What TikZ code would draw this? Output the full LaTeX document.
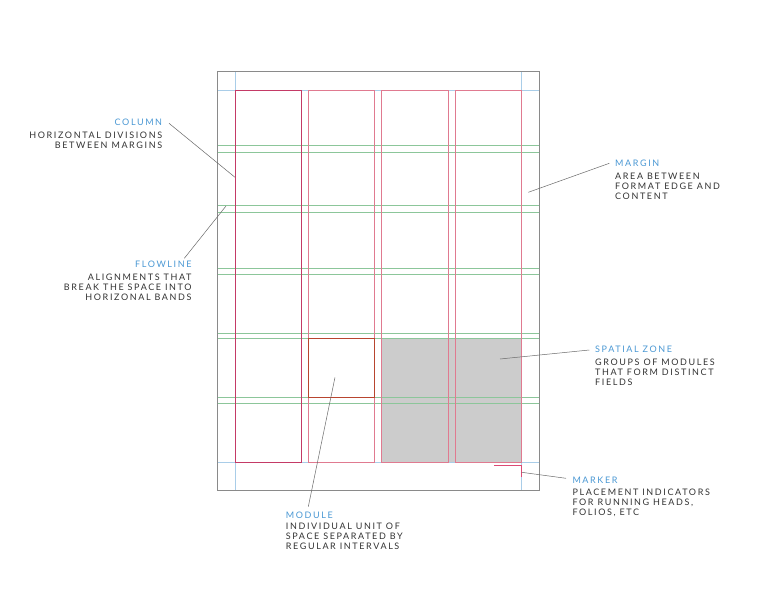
\documentclass[tikz,border=0pt]{standalone}
\usepackage{fontspec}
\setmainfont{Lato}[LetterSpace=18]
\definecolor{titleblue}{HTML}{4A98D4}
\definecolor{txtgray}{HTML}{333333}
\definecolor{marginblue}{HTML}{A9CDE8}
\definecolor{flowgreen}{HTML}{8CC69A}
\definecolor{colpink}{HTML}{E07A90}
\definecolor{colred}{HTML}{C43A66}
\definecolor{markred}{HTML}{DC4A74}
\definecolor{modred}{HTML}{B8452F}
\definecolor{zonegray}{HTML}{CCCCCC}
\definecolor{pagegray}{HTML}{8A8A8A}
\definecolor{leadgray}{HTML}{6A6A6A}
\tikzset{
  titlelbl/.style={inner sep=0pt, text=titleblue, font=\fontsize{9}{10}\selectfont},
  desclbl/.style={inner sep=0pt, text=txtgray, font=\fontsize{9}{9.9}\selectfont},
  leader/.style={draw=leadgray, line width=0.5pt},
  marginline/.style={draw=marginblue, line width=0.7pt},
  flowline/.style={draw=flowgreen, line width=0.6pt},
  colbox/.style={draw=colpink, line width=0.6pt},
  firstcol/.style={draw=colred, line width=0.9pt},
  modbox/.style={draw=modred, line width=1pt},
  pageedge/.style={draw=pagegray, line width=0.8pt},
  markerline/.style={draw=markred, line width=0.8pt}
}
\begin{document}
\begin{tikzpicture}[x=1pt,y=-1pt]
\useasboundingbox[fill=white] (0,0) rectangle (768,591);
% spatial zone
\fill[zonegray] (381.7,338.7) rectangle (521,462);
% margin lines
\draw[marginline] (235,71.5) -- (235,490.5);
\draw[marginline] (521,71.5) -- (521,490.5);
\draw[marginline] (217,90) -- (539.5,90);
\draw[marginline] (217,462) -- (539.5,462);
% flowlines
\foreach \yy in {145.7,152.3,205.7,212.3,268.3,274.3,333,338.7,397.7,403}
  \draw[flowline] (217,\yy) -- (539.5,\yy);
% columns
\draw[colbox] (308.3,90) rectangle (374.6,462);
\draw[colbox] (381.7,90) rectangle (448,462);
\draw[colbox] (455,90) rectangle (521,462);
\draw[firstcol] (235,90) rectangle (301.3,462);
% module
\draw[modbox] (308.3,338.7) rectangle (374.6,397.5);
% page
\draw[pageedge] (217,71.5) rectangle (539.5,490.5);
% marker
\draw[markerline] (494.3,465.7) -- (521,465.7) -- (521,477);

% labels
\node[titlelbl, anchor=base east] (coltitle) at (162.3,125) {COLUMN};
\node[desclbl, anchor=north east, align=right] (coldesc) at (162.3,131.6) {HORIZONTAL DIVISIONS\\BETWEEN MARGINS};
\node[titlelbl, anchor=base east] (flowtitle) at (191.7,267.7) {FLOWLINE};
\node[desclbl, anchor=north east, align=right] (flowdesc) at (191.7,273.5) {ALIGNMENTS THAT\\BREAK THE SPACE INTO\\HORIZONAL BANDS};
\node[titlelbl, anchor=base west] (margtitle) at (615,166) {MARGIN};
\node[desclbl, anchor=north west, align=left] (margdesc) at (615,172.8) {AREA BETWEEN\\FORMAT EDGE AND\\CONTENT};
\node[titlelbl, anchor=base west] (zonetitle) at (595,352) {SPATIAL ZONE};
\node[desclbl, anchor=north west, align=left] (zonedesc) at (595,358.5) {GROUPS OF MODULES\\THAT FORM DISTINCT\\FIELDS};
\node[titlelbl, anchor=base west] (marktitle) at (572.3,483.3) {MARKER};
\node[desclbl, anchor=north west, align=left] (markdesc) at (572.3,488.5) {PLACEMENT INDICATORS\\FOR RUNNING HEADS,\\FOLIOS, ETC};
\node[titlelbl, anchor=base west] (modtitle) at (285.7,518.3) {MODULE};
\node[desclbl, anchor=north west, align=left] (moddesc) at (285.7,522.5) {INDIVIDUAL UNIT OF\\SPACE SEPARATED BY\\REGULAR INTERVALS};

% leader coordinates
\coordinate (colA) at (169,123.3);
\coordinate (colB) at (235,177.3);
\coordinate (flowA) at (184.3,258.3);
\coordinate (flowB) at (226,206);
\coordinate (margA) at (609.3,163.3);
\coordinate (margB) at (528.3,192.3);
\coordinate (zoneA) at (589.3,350);
\coordinate (zoneB) at (500,359);
\coordinate (markA) at (566,478.3);
\coordinate (markB) at (521.7,472.3);
\coordinate (modA) at (308.3,506.7);
\coordinate (modB) at (335,377.3);
\draw[leader] (colA) -- (colB);
\draw[leader] (flowA) -- (flowB);
\draw[leader] (margA) -- (margB);
\draw[leader] (zoneA) -- (zoneB);
\draw[leader] (markA) -- (markB);
\draw[leader] (modA) -- (modB);
\end{tikzpicture}
\end{document}
